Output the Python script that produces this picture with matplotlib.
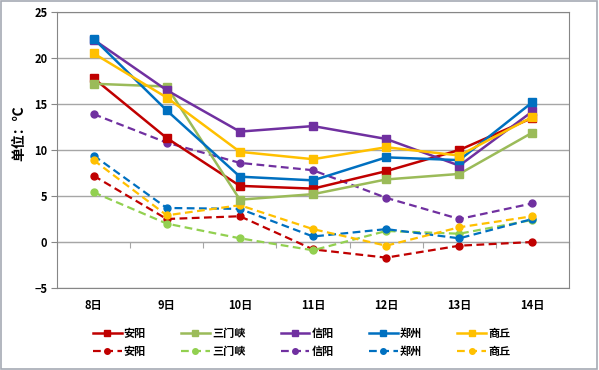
import matplotlib.pyplot as plt
from matplotlib.patches import Rectangle

plt.rcParams['font.family'] = ['Noto Sans CJK SC', 'DejaVu Sans']

days = ['8日', '9日', '10日', '11日', '12日', '13日', '14日']
cities = ['安阳', '三门峡', '信阳', '郑州', '商丘']

# solid lines (highs) and dashed lines (lows), per city
high_anyang = [17.8, 11.3, 6.1, 5.8, 7.7, 10.0, 13.5]
high_sanmenxia = [17.2, 16.9, 4.6, 5.2, 6.8, 7.4, 11.9]
high_xinyang = [22.0, 16.5, 12.0, 12.6, 11.2, 8.3, 14.2]
high_zhengzhou = [22.1, 14.3, 7.1, 6.7, 9.2, 8.9, 15.2]
high_shangqiu = [20.5, 15.7, 9.8, 9.0, 10.3, 9.4, 13.6]

low_anyang = [7.2, 2.5, 2.8, -0.8, -1.7, -0.4, 0.0]
low_sanmenxia = [5.4, 2.0, 0.4, -0.9, 1.2, 0.9, 2.4]
low_xinyang = [13.9, 10.8, 8.6, 7.8, 4.8, 2.5, 4.2]
low_zhengzhou = [9.4, 3.7, 3.6, 0.6, 1.4, 0.4, 2.5]
low_shangqiu = [8.9, 2.9, 4.0, 1.4, -0.4, 1.6, 2.8]

highs = [high_anyang, high_sanmenxia, high_xinyang, high_zhengzhou, high_shangqiu]
lows = [low_anyang, low_sanmenxia, low_xinyang, low_zhengzhou, low_shangqiu]
high_colors = ['#C00000', '#9BBB59', '#7030A0', '#0070C0', '#FFC000']
low_colors = ['#C00000', '#92D050', '#7030A0', '#0070C0', '#FFC000']

fig = plt.figure(figsize=(5.99, 3.70), dpi=100)
ax = fig.add_axes([0.0952, 0.2216, 0.8548, 0.746])

x = list(range(len(days)))
handles = []
for i in range(len(cities)):
    l2, = ax.plot(x, lows[i], color=low_colors[i], lw=1.6, ls=(0, (3.5, 2)),
                  marker='o', ms=5, zorder=3, label=cities[i])
    l1, = ax.plot(x, highs[i], color=high_colors[i], lw=1.8,
                  marker='s', ms=6, zorder=4, label=cities[i])
    handles += [l1, l2]

ax.set_xlim(-0.5, 6.5)
ax.set_ylim(-5, 25)
ax.set_yticks(range(-5, 26, 5))
ax.grid(axis='y', color='#A6A6A6', lw=1)
ax.set_axisbelow(True)
for s in ax.spines.values():
    s.set_color('#868686')
ax.tick_params(axis='y', length=4, color='#868686', labelsize=8, pad=3)
ax.set_xticks(x)
ax.set_xticklabels(days)
ax.tick_params(axis='x', length=0, labelsize=8, pad=8)
for t in ax.get_xticklabels() + ax.get_yticklabels():
    t.set_fontweight('bold')

# category axis drawn at y=0 with ticks between days
sec = ax.secondary_xaxis(5 / 30)
sec.set_xticks([i + 0.5 for i in range(-1, 7)])
sec.set_xticklabels([])
sec.tick_params(length=4, color='#A6A6A6', direction='out')
sec.spines['bottom'].set_color('#BFBFBF')

ax.set_ylabel('单位：℃', fontsize=10, fontweight='bold')
ax.yaxis.set_label_coords(-0.06, 0.56)

leg = fig.legend(handles=handles, ncol=5, loc='lower left',
                 bbox_to_anchor=(0.138, 0.005), frameon=False,
                 prop={'size': 8, 'weight': 'bold'}, handlelength=2.6,
                 handletextpad=0.2, columnspacing=3.15, labelspacing=0.5,
                 markerscale=0.8)

fig.patches.append(Rectangle((0.002, 0.004), 0.995, 0.992, transform=fig.transFigure,
                             fill=False, edgecolor='#A6AAB4', lw=1.2))

fig.savefig('out.png', dpi=100)
